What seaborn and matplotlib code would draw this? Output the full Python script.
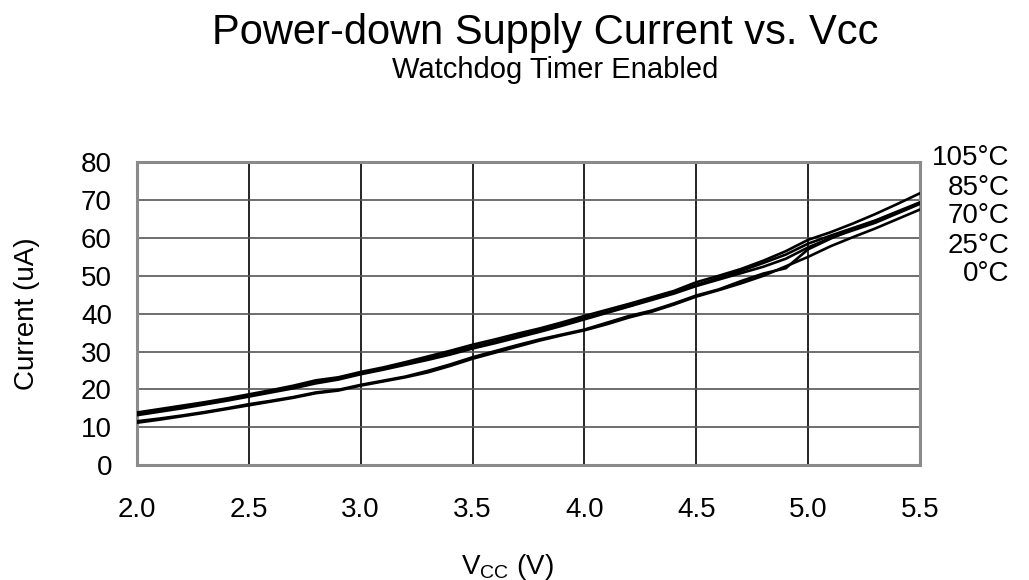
import numpy as np
import pandas as pd
import matplotlib
matplotlib.use('Agg')
import matplotlib.pyplot as plt
import seaborn as sns

# data (langkah 0.1 V)
vcc = [round(2.0 + 0.1 * i, 1) for i in range(36)]

cur_105 = [13.9, 14.8, 15.7, 16.6, 17.6, 18.7, 19.8, 21.0, 22.4, 23.2,
           24.6, 25.8, 27.2, 28.7, 30.2, 31.8, 33.2, 34.7, 36.1, 37.7,
           39.4, 41.0, 42.6, 44.3, 46.0, 48.3, 50.0, 51.8, 54.0, 56.5,
           59.5, 61.5, 63.8, 66.3, 69.0, 71.8]
cur_85 = [13.5, 14.4, 15.3, 16.3, 17.3, 18.4, 19.4, 20.6, 22.0, 22.9,
          24.3, 25.5, 26.8, 28.2, 29.7, 31.2, 32.6, 34.1, 35.6, 37.2,
          38.8, 40.4, 42.0, 43.8, 45.6, 47.6, 49.4, 51.3, 53.4, 55.6,
          58.5, 60.6, 62.6, 64.6, 67.0, 69.4]
cur_70 = [13.2, 14.1, 15.0, 16.0, 17.0, 18.1, 19.2, 20.3, 21.6, 22.6,
          24.0, 25.2, 26.5, 27.8, 29.2, 30.8, 32.2, 33.7, 35.2, 36.8,
          38.5, 40.2, 41.9, 43.6, 45.3, 47.3, 49.0, 50.7, 52.4, 54.5,
          57.5, 60.0, 62.0, 64.0, 66.5, 69.0]
cur_25 = [11.6, 12.3, 13.1, 14.0, 15.0, 16.1, 17.0, 18.0, 19.2, 19.9,
          21.2, 22.3, 23.4, 24.9, 26.6, 28.5, 30.1, 31.7, 33.2, 34.5,
          35.8, 37.6, 39.4, 40.8, 42.7, 44.8, 46.4, 48.6, 50.6, 52.0,
          57.0, 59.8, 62.3, 64.5, 66.8, 69.2]
cur_0 = [11.2, 12.0, 12.9, 13.8, 14.8, 15.8, 16.8, 17.8, 19.0, 19.7,
         21.0, 22.1, 23.2, 24.5, 26.2, 28.1, 29.7, 31.3, 32.9, 34.3,
         35.6, 37.2, 39.0, 40.5, 42.4, 44.5, 46.2, 48.0, 50.0, 52.5,
         55.0, 57.8, 60.2, 62.5, 65.0, 67.5]

temps = ['105°C', '85°C', '70°C', '25°C', '0°C']
series = [cur_105, cur_85, cur_70, cur_25, cur_0]

x_ticks = [2.0, 2.5, 3.0, 3.5, 4.0, 4.5, 5.0, 5.5]
y_ticks = [0, 10, 20, 30, 40, 50, 60, 70, 80]

rows = []
for t, vals in zip(temps, series):
    for v, c in zip(vcc, vals):
        rows.append({'vcc': v, 'cur': c, 'temp': t})
df = pd.DataFrame(rows)

sns.set_style('white')
plt.rcParams['font.family'] = ['Liberation Sans', 'DejaVu Sans']
plt.rcParams['mathtext.fontset'] = 'custom'
plt.rcParams['mathtext.rm'] = 'Liberation Sans'
plt.rcParams['text.color'] = 'black'
plt.rcParams['axes.labelcolor'] = 'black'
plt.rcParams['xtick.color'] = 'black'
plt.rcParams['ytick.color'] = 'black'

fig = plt.figure(figsize=(10.29, 5.8), dpi=100)
ax = fig.add_axes([0.1331, 0.198, 0.761, 0.5224])

sns.lineplot(data=df, x='vcc', y='cur', hue='temp', hue_order=temps,
             palette={t: 'black' for t in temps}, linewidth=1.9,
             legend=False, errorbar=None, ax=ax, zorder=3)

ax.set_xlim(2.0, 5.5)
ax.set_ylim(0, 80)
ax.set_xticks(x_ticks)
ax.set_xticklabels([f'{x:.1f}' for x in x_ticks])
ax.set_yticks(y_ticks)
ax.tick_params(axis='both', length=0, labelsize=20)
ax.tick_params(axis='x', pad=23)
ax.tick_params(axis='y', pad=18)

for x in x_ticks[1:-1]:
    ax.axvline(x, color='black', lw=1.2, zorder=1)
for y in y_ticks[1:-1]:
    ax.axhline(y, color='#555555', lw=1.2, zorder=1)

for s in ax.spines.values():
    s.set_color('#8a8a8a')
    s.set_linewidth(2.2)

ax.set_xlabel(r'$\mathregular{V_{CC}}$ (V)', fontsize=20)
ax.set_ylabel('Current (uA)', fontsize=20)
ax.xaxis.set_label_coords(0.4726, -0.285)
ax.yaxis.set_label_coords(-0.124, 0.5)

fig.text(0.530, 0.943, 'Power-down Supply Current vs. Vcc',
         ha='center', va='center', fontsize=30)
fig.text(0.540, 0.880, 'Watchdog Timer Enabled',
         ha='center', va='center', fontsize=21)

label_y = [0.7276, 0.6759, 0.6276, 0.5759, 0.5276]
for t, yy in zip(temps, label_y):
    fig.text(0.981, yy, t, ha='right', va='center', fontsize=20)

plt.savefig('out.png', dpi=100)
plt.close()
